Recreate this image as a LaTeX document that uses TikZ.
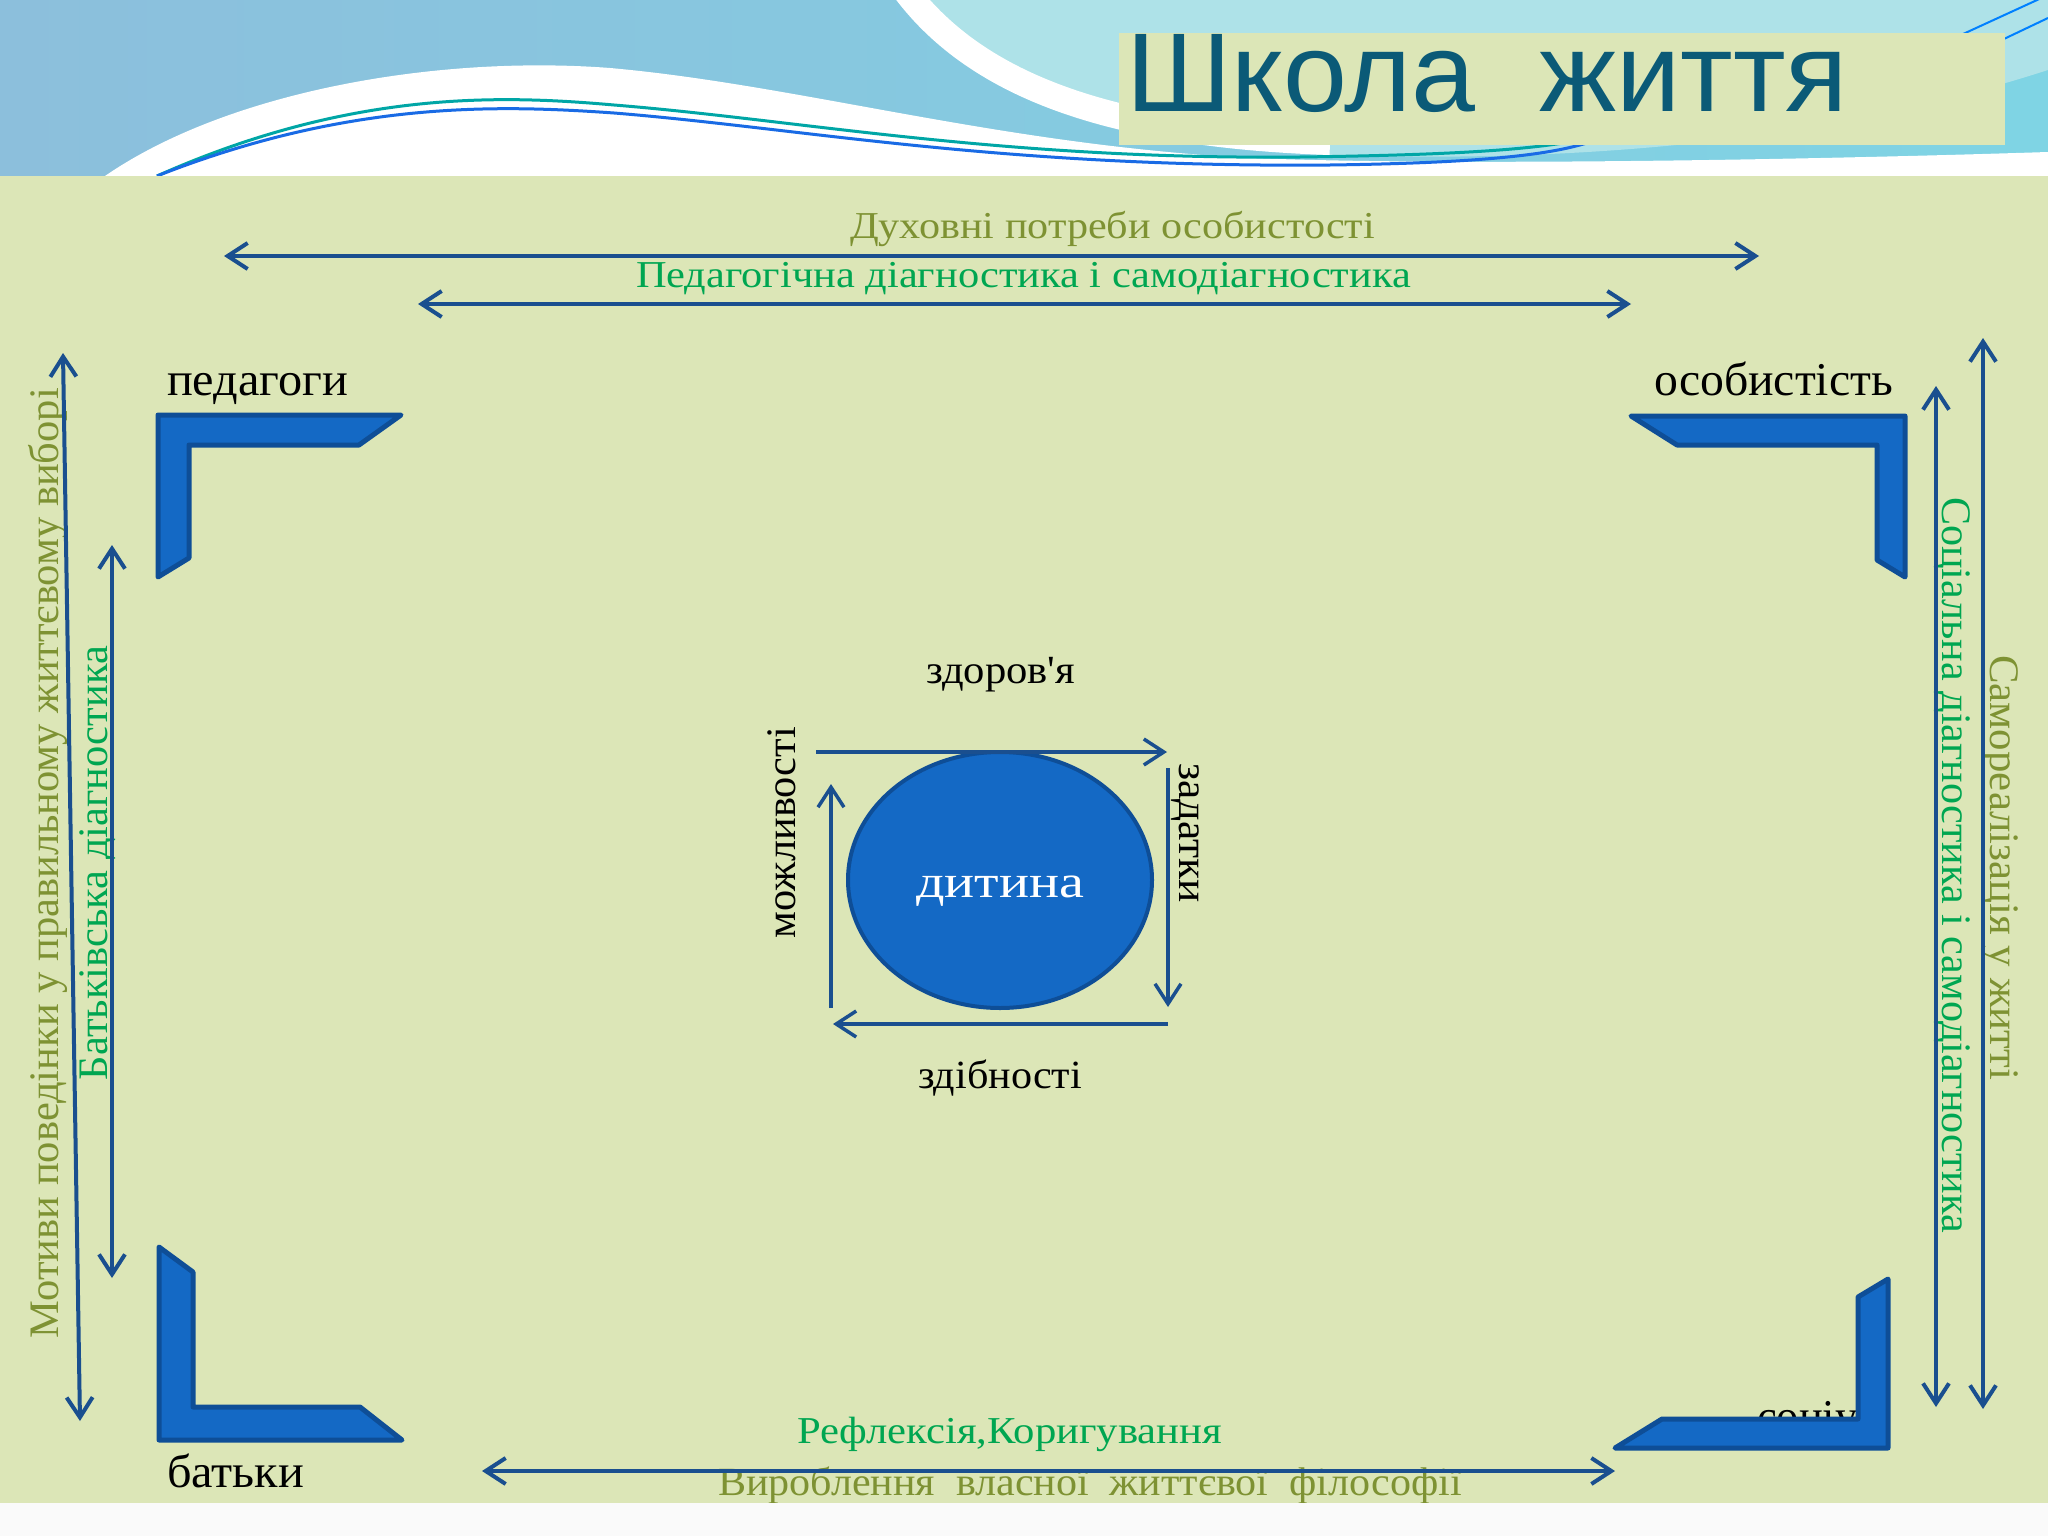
\documentclass[tikz,border=0pt]{standalone}
\usepackage{fontspec}
\usepackage{graphicx}
\setmainfont{Liberation Serif}
\newfontfamily\titlefont{Liberation Sans}
\usetikzlibrary{arrows.meta,shapes.geometric}
\definecolor{panel}{HTML}{DCE6B7}
\definecolor{olive}{HTML}{7E9233}
\definecolor{grn}{HTML}{00A651}
\definecolor{arr}{HTML}{1A4F8F}
\definecolor{bfill}{HTML}{1469C5}
\definecolor{bdraw}{HTML}{0E4E97}
\definecolor{ttl}{HTML}{0B5A77}
\definecolor{skyA}{HTML}{8CBFDC}
\definecolor{skyB}{HTML}{7FD4E4}
\definecolor{cyanblob}{HTML}{AEE2E8}
\newcommand\fitw[2]{\resizebox{#1}{\height}{#2}}
\tikzset{
  lbl/.style={inner sep=0pt, outer sep=0pt, anchor=base west},
  dbl/.style={draw=arr, line width=4pt, {Straight Barb[length=20pt,width=26pt]}-{Straight Barb[length=20pt,width=26pt]}},
  sgl/.style={draw=arr, line width=3.5pt, -{Straight Barb[length=20pt,width=26pt]}},
  bracket/.style={fill=bfill, draw=bdraw, line width=5pt, line join=round},
}
\begin{document}
\begin{tikzpicture}[x=1pt,y=-1pt]
\useasboundingbox (0,0) rectangle (2048,1536);
% ---- top decorative band ----
\fill[left color=skyA, right color=skyB] (0,0) rectangle (2048,176);
\fill[cyanblob] (930,0) .. controls (1000,90) and (1150,150) .. (1350,156)
   .. controls (1550,160) and (1800,150) .. (2048,70) -- (2048,0) -- cycle;
\draw[white, line width=26pt] (905,-10) .. controls (980,90) and (1120,135) .. (1330,142);
\fill[white] (105,176) .. controls (230,90) and (440,55) .. (610,68)
   .. controls (800,85) and (1000,145) .. (1250,158)
   .. controls (1450,166) and (1800,160) .. (2048,152) -- (2048,176) -- cycle;
\draw[color=teal!70!cyan, line width=3pt] (157,176) .. controls (350,90) and (500,95) .. (614,105)
   .. controls (800,120) and (1000,160) .. (1300,157) .. controls (1450,155) and (1530,150) .. (1580,140);
\draw[color=blue!60!cyan!80!gray, line width=3pt] (157,176) .. controls (350,100) and (500,105) .. (614,113)
   .. controls (800,128) and (1000,168) .. (1330,165) .. controls (1480,163) and (1550,155) .. (1590,142);
\draw[color=blue!50!cyan, line width=2pt] (1950,40) -- (2048,-5);
\draw[color=blue!50!cyan, line width=2pt] (1985,48) -- (2048,18);
% ---- title ----
\fill[panel] (1119,33) rectangle (2005,145);
\node[lbl, text=ttl] (title) at (1126,112) {\titlefont\fontsize{112}{120}\selectfont\fitw{722pt}{Школа\ \ життя}};
% ---- main panel ----
\fill[panel] (0,176) rectangle (2048,1503);
% top texts and arrows
\node[lbl, text=olive] (t1) at (850,238) {\fontsize{38}{40}\selectfont\fitw{525pt}{Духовні потреби особистості}};
\node[lbl, text=grn] (t2) at (636,287) {\fontsize{38}{40}\selectfont\fitw{775pt}{Педагогічна діагностика і самодіагностика}};
\coordinate (a1l) at (224,256); \coordinate (a1r) at (1759,256);
\coordinate (a2l) at (418,304); \coordinate (a2r) at (1631,304);
\draw[dbl] (a1l) -- (a1r);
\draw[dbl] (a2l) -- (a2r);
% corner labels
\node[lbl] (ped) at (167,395) {\fontsize{47}{50}\selectfont\fitw{181pt}{педагоги}};
\node[lbl] (oso) at (1654,395) {\fontsize{47}{50}\selectfont\fitw{239pt}{особистість}};
\node[lbl] (bat) at (167,1487) {\fontsize{47}{50}\selectfont\fitw{137pt}{батьки}};
\node[lbl] (soc) at (1757,1432) {\fontsize{47}{50}\selectfont\fitw{128pt}{соціум}};
% left texts and arrows
\node[lbl, text=olive, rotate=90] (mot) at (58,1338) {\fontsize{42}{44}\selectfont\fitw{950pt}{Мотиви поведінки у правильному життєвому виборі}};
\node[lbl, text=grn, rotate=90] (bd) at (107,1080) {\fontsize{42}{44}\selectfont\fitw{434pt}{Батьківська діагностика}};
\coordinate (l1t) at (63,353); \coordinate (l1b) at (80,1421);
\coordinate (l2t) at (112,545); \coordinate (l2b) at (112,1278);
\draw[dbl] (l1t) -- (l1b);
\draw[dbl] (l2t) -- (l2b);
% right texts and arrows
\node[lbl, text=grn, rotate=-90] (sd) at (1942,497) {\fontsize{42}{44}\selectfont\fitw{736pt}{Соціальна діагностика і самодіагностика}};
\node[lbl, text=olive, rotate=-90] (sr) at (1990,655) {\fontsize{42}{44}\selectfont\fitw{425pt}{Самореалізація у житті}};
\coordinate (r1t) at (1936,386); \coordinate (r1b) at (1936,1407);
\coordinate (r2t) at (1983,338); \coordinate (r2b) at (1983,1409);
\draw[dbl] (r1t) -- (r1b);
\draw[dbl] (r2t) -- (r2b);
% bottom texts and arrow
\node[lbl, text=grn] (ref) at (797,1443) {\fontsize{38}{40}\selectfont\fitw{425pt}{Рефлексія,Коригування}};
\node[lbl, text=olive] (vyr) at (718,1495) {\fontsize{40}{42}\selectfont\fitw{744pt}{Вироблення\ \ власної\ \ життєвої\ \ філософії}};
\coordinate (bl) at (482,1471); \coordinate (br) at (1615,1471);
\draw[dbl] (bl) -- (br);
% brackets
\draw[bracket] (158,415) -- (401,415) -- (359,445) -- (189,445) -- (189,558) -- (158,577) -- cycle;
\draw[bracket] (1631,416) -- (1905,416) -- (1905,577) -- (1877,560) -- (1877,445) -- (1677,445) -- cycle;
\draw[bracket] (159,1247) -- (193,1272) -- (193,1407) -- (360,1407) -- (402,1440) -- (159,1440) -- cycle;
\draw[bracket] (1888,1279) -- (1888,1448) -- (1615,1448) -- (1662,1419) -- (1858,1419) -- (1858,1297) -- cycle;
% centre
\node[ellipse, fill=bfill, draw=bdraw, line width=4pt, minimum width=304pt, minimum height=256pt, inner sep=0pt] (child) at (1000,880) {};
\node[lbl, text=white] (dyt) at (916,897) {\fontsize{46}{48}\selectfont\fitw{168pt}{дитина}};
\node[lbl] (zdo) at (926,683) {\fontsize{40}{42}\selectfont\fitw{149pt}{здоров\textquotesingle я}};
\node[lbl] (zdi) at (918,1088) {\fontsize{40}{42}\selectfont\fitw{164pt}{здібності}};
\node[lbl, rotate=90] (mozh) at (795,938) {\fontsize{42}{44}\selectfont\fitw{211pt}{можливості}};
\node[lbl, rotate=-90] (zad) at (1179,763) {\fontsize{42}{44}\selectfont\fitw{140pt}{задатки}};
\coordinate (ct1) at (816,752); \coordinate (ct2) at (1167,752);
\coordinate (cr1) at (1168,768); \coordinate (cr2) at (1168,1007);
\coordinate (cb1) at (1168,1024); \coordinate (cb2) at (833,1024);
\coordinate (cl1) at (831,1008); \coordinate (cl2) at (831,784);
\draw[sgl] (ct1) -- (ct2);
\draw[sgl] (cr1) -- (cr2);
\draw[sgl] (cb1) -- (cb2);
\draw[sgl] (cl1) -- (cl2);
% bottom strip
\fill[white!96!gray] (0,1503) rectangle (2048,1536);
\end{tikzpicture}
\end{document}
